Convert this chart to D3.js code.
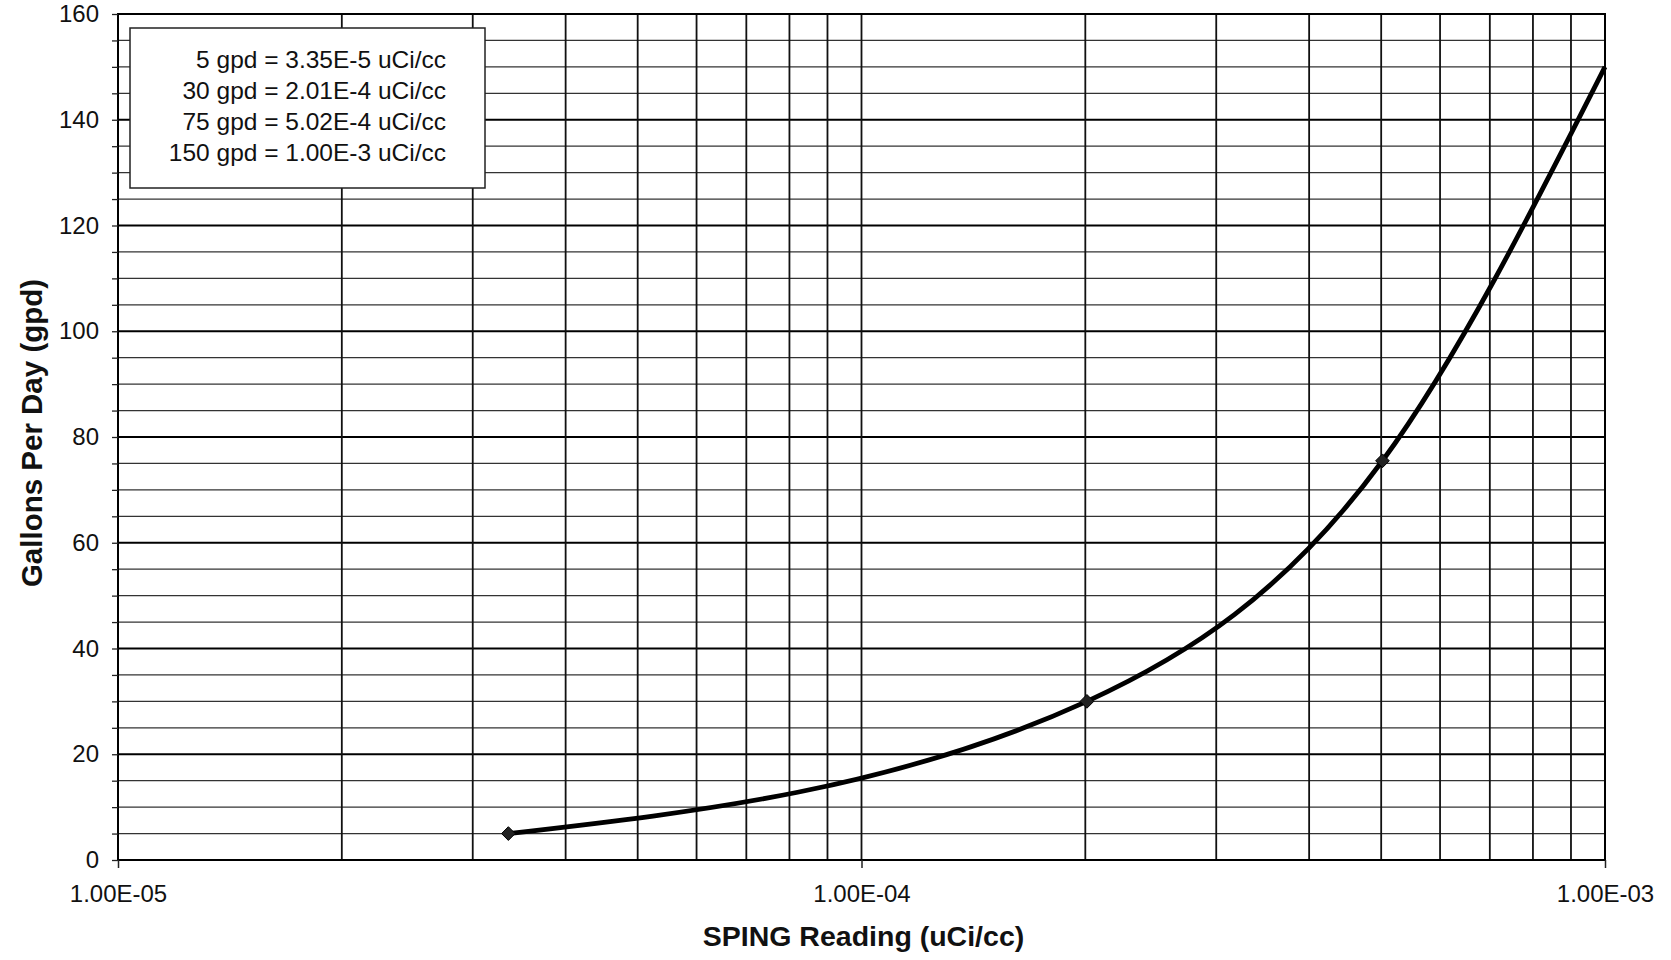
<!DOCTYPE html>
<html>
<head>
<meta charset="utf-8">
<script src="https://cdn.jsdelivr.net/npm/d3@7"></script>
<style>
  body { margin: 0; background: #fff; }
  text { font-family: "Liberation Sans", Arial, sans-serif; fill: #111; }
</style>
</head>
<body>
<svg width="1671" height="960"></svg>
<script>
// readings (uCi/cc) and flow (gpd)
var readings = [3.35e-5, 2.01e-4, 5.02e-4, 1.00e-3];
var gpd = [5, 30, 75.5, 150];
var markerCount = 3; // last point has no visible marker
var legendLines = [
  "5 gpd = 3.35E-5 uCi/cc",
  "30 gpd = 2.01E-4 uCi/cc",
  "75 gpd = 5.02E-4 uCi/cc",
  "150 gpd = 1.00E-3 uCi/cc"
];
var xTickValues = [1e-5, 1e-4, 1e-3];
var xTickLabels = ["1.00E-05", "1.00E-04", "1.00E-03"];
var yTickValues = [0, 20, 40, 60, 80, 100, 120, 140, 160];

var margin = {top: 14, right: 66, bottom: 100, left: 118};
var width = 1671 - margin.left - margin.right;
var height = 960 - margin.top - margin.bottom;

var svg = d3.select("svg")
  .append("g")
    .attr("transform", "translate(" + margin.left + "," + margin.top + ")");

var x = d3.scaleLog()
    .domain([1e-5, 1e-3])
    .range([0, width]);

var y = d3.scaleLinear()
    .domain([0, 160])
    .range([height, 0]);

var data = readings.map(function(r, i) { return {x: r, y: gpd[i]}; });

// horizontal grid, every 5 gpd (darker every 20)
svg.append("g")
  .selectAll("line")
  .data(d3.range(5, 160, 5))
  .enter().append("line")
    .attr("x1", 0)
    .attr("x2", width)
    .attr("y1", function(d) { return y(d); })
    .attr("y2", function(d) { return y(d); })
    .attr("stroke", function(d) { return d % 20 === 0 ? "#000" : "#333"; })
    .attr("stroke-width", function(d) { return d % 20 === 0 ? 2 : 1.3; });

// vertical grid at every log tick
svg.append("g")
  .selectAll("line")
  .data(x.ticks())
  .enter().append("line")
    .attr("x1", function(d) { return x(d); })
    .attr("x2", function(d) { return x(d); })
    .attr("y1", 0)
    .attr("y2", height)
    .attr("stroke", "#111")
    .attr("stroke-width", 1.8);

// frame
svg.append("rect")
    .attr("width", width)
    .attr("height", height)
    .attr("fill", "none")
    .attr("stroke", "#000")
    .attr("stroke-width", 2);

// y axis: small ticks every 5, labels every 20
svg.append("g")
    .call(d3.axisLeft(y).tickValues(d3.range(0, 165, 5)).tickSize(6).tickFormat(""))
    .call(function(g) { g.select(".domain").remove(); })
    .selectAll("line").attr("stroke", "#222").attr("stroke-width", 1.3);

svg.append("g")
    .call(d3.axisLeft(y).tickValues(yTickValues).tickSize(0).tickPadding(19))
    .call(function(g) { g.select(".domain").remove(); })
    .selectAll("text")
    .style("font-size", "24px")
    .attr("fill", "#111");

// x axis
var xAxis = svg.append("g")
    .attr("transform", "translate(0," + height + ")")
    .call(d3.axisBottom(x).tickValues(xTickValues).tickSize(8).tickPadding(17)
      .tickFormat(function(d, i) { return xTickLabels[i]; }));
xAxis.select(".domain").remove();
xAxis.selectAll("line").attr("stroke", "#222").attr("stroke-width", 1.5);
xAxis.selectAll("text").style("font-size", "24px").attr("fill", "#111");

// smoothed curve through the points
var line = d3.line()
    .x(function(d) { return x(d.x); })
    .y(function(d) { return y(d.y); })
    .curve(d3.curveMonotoneX);

svg.append("path")
    .datum(data)
    .attr("fill", "none")
    .attr("stroke", "#000")
    .attr("stroke-width", 4.8)
    .attr("d", line);

svg.selectAll(".dot")
    .data(data.slice(0, markerCount))
  .enter().append("path")
    .attr("class", "dot")
    .attr("transform", function(d) { return "translate(" + x(d.x) + "," + y(d.y) + ")"; })
    .attr("d", d3.symbol().type(d3.symbolDiamond2).size(120))
    .attr("fill", "#222")
    .attr("stroke", "#000")
    .attr("stroke-width", 1);

// legend box
var legend = svg.append("g").attr("transform", "translate(12,14)");
legend.append("rect")
    .attr("width", 355)
    .attr("height", 160)
    .attr("fill", "#fff")
    .attr("stroke", "#222")
    .attr("stroke-width", 1.5);
legend.selectAll("text")
    .data(legendLines)
  .enter().append("text")
    .attr("x", 316)
    .attr("y", function(d, i) { return 40 + i * 31; })
    .attr("text-anchor", "end")
    .style("font-size", "24.5px")
    .text(function(d) { return d; });

// axis titles
svg.append("text")
    .attr("x", width / 2 + 2)
    .attr("y", height + 86)
    .attr("text-anchor", "middle")
    .style("font-size", "28.5px")
    .style("font-weight", "bold")
    .text("SPING Reading (uCi/cc)");

svg.append("text")
    .attr("transform", "translate(" + (-76) + "," + (height / 2 - 4) + ") rotate(-90)")
    .attr("text-anchor", "middle")
    .style("font-size", "29.5px")
    .style("font-weight", "bold")
    .text("Gallons Per Day (gpd)");
</script>
</body>
</html>
